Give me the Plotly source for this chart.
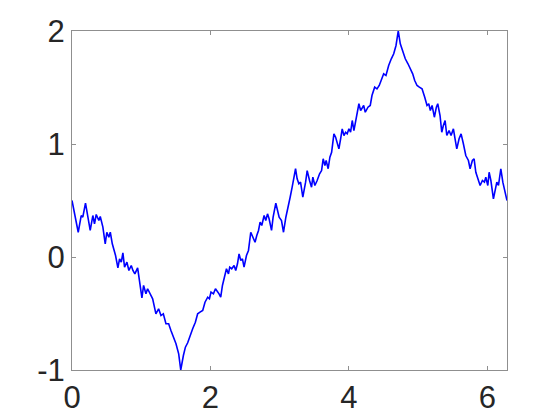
import plotly.graph_objects as go
import math

x_vals = [0.0, 0.090, 0.133, 0.156, 0.195, 0.229, 0.263, 0.301, 0.325, 0.350, 0.388, 0.408, 0.446, 0.480,
          0.503, 0.532, 0.553, 0.582, 0.629, 0.663, 0.687, 0.712, 0.735, 0.759, 0.793, 0.822, 0.856, 0.880,
          0.908, 0.948, 0.976, 1.010, 1.034, 1.068, 1.092, 1.117, 1.165, 1.212, 1.251, 1.285, 1.319, 1.357,
          1.396, 1.429, 1.464, 1.502, 1.541, 1.5708, 1.609, 1.638, 1.671, 1.704, 1.743, 1.782, 1.815, 1.849,
          1.888, 1.921, 1.960, 1.985, 2.008, 2.043, 2.072, 2.124, 2.148, 2.173, 2.210, 2.231, 2.260, 2.278,
          2.307, 2.341, 2.365, 2.390, 2.413, 2.438, 2.462, 2.485, 2.520, 2.549, 2.582, 2.615, 2.644, 2.669,
          2.694, 2.717, 2.741, 2.775, 2.799, 2.824, 2.847, 2.882, 2.905, 2.944, 2.968, 2.992, 3.026, 3.055,
          3.089, 3.128, 3.151, 3.180, 3.229, 3.252, 3.277, 3.301, 3.334, 3.374, 3.397, 3.431, 3.460, 3.479,
          3.508, 3.541, 3.576, 3.605, 3.628, 3.653, 3.671, 3.700, 3.725, 3.750, 3.783, 3.808, 3.831, 3.855,
          3.880, 3.903, 3.928, 3.952, 3.975, 4.000, 4.024, 4.048, 4.072, 4.105, 4.144, 4.169, 4.192, 4.213,
          4.236, 4.275, 4.308, 4.333, 4.372, 4.405, 4.438, 4.467, 4.502, 4.535, 4.574, 4.612, 4.647, 4.680,
          4.7124, 4.742, 4.777, 4.814, 4.853, 4.887, 4.921, 4.950, 4.984, 5.017, 5.056, 5.095, 5.128, 5.153,
          5.176, 5.201, 5.234, 5.263, 5.283, 5.316, 5.341, 5.364, 5.389, 5.414, 5.446, 5.475, 5.509, 5.533,
          5.558, 5.591, 5.620, 5.653, 5.688, 5.726, 5.750, 5.783, 5.808, 5.833, 5.862, 5.895, 5.928, 5.957,
          5.977, 6.006, 6.025, 6.050, 6.087, 6.112, 6.136, 6.160, 6.194, 6.223, 6.256, 6.2832]

y_vals = [0.5, 0.219, 0.367, 0.352, 0.476, 0.338, 0.235, 0.367, 0.294, 0.376, 0.323, 0.358, 0.264, 0.117,
          0.219, 0.175, 0.219, 0.117, 0.013, -0.096, -0.016, -0.046, 0.037, -0.090, -0.046, -0.119, -0.075, -0.119,
          -0.149, -0.096, -0.208, -0.361, -0.252, -0.326, -0.281, -0.311, -0.370, -0.503, -0.458, -0.518, -0.503, -0.591,
          -0.591, -0.650, -0.710, -0.768, -0.857, -1.0, -0.872, -0.798, -0.759, -0.695, -0.635, -0.577, -0.503, -0.488,
          -0.473, -0.400, -0.356, -0.370, -0.311, -0.326, -0.281, -0.326, -0.356, -0.252, -0.164, -0.104, -0.149, -0.090,
          -0.104, -0.075, -0.119, -0.060, 0.028, -0.031, -0.016, -0.090, 0.013, 0.058, 0.219, 0.175, 0.131, 0.190,
          0.235, 0.308, 0.279, 0.367, 0.323, 0.382, 0.338, 0.235, 0.352, 0.476, 0.396, 0.352, 0.323, 0.219,
          0.352, 0.485, 0.529, 0.618, 0.781, 0.692, 0.648, 0.662, 0.529, 0.662, 0.765, 0.677, 0.618, 0.706,
          0.633, 0.677, 0.736, 0.765, 0.869, 0.810, 0.854, 0.781, 0.883, 0.927, 1.090, 1.060, 1.016, 0.957,
          1.046, 1.134, 1.075, 1.104, 1.090, 1.134, 1.104, 1.208, 1.119, 1.237, 1.356, 1.296, 1.326, 1.341,
          1.281, 1.326, 1.341, 1.429, 1.503, 1.488, 1.518, 1.562, 1.621, 1.606, 1.695, 1.754, 1.798, 1.872,
          2.0, 1.887, 1.812, 1.754, 1.710, 1.665, 1.621, 1.562, 1.518, 1.503, 1.488, 1.414, 1.341, 1.356,
          1.296, 1.341, 1.237, 1.326, 1.356, 1.252, 1.104, 1.164, 1.208, 1.075, 1.119, 1.075, 1.134, 1.046,
          0.957, 1.046, 1.090, 1.002, 0.898, 0.854, 0.781, 0.854, 0.869, 0.750, 0.692, 0.633, 0.677, 0.662,
          0.706, 0.633, 0.750, 0.677, 0.515, 0.588, 0.662, 0.633, 0.781, 0.662, 0.559, 0.5]

x_ticks = [0, 2, 4, 6]
x_tick_labels = ["0", "2", "4", "6"]
y_ticks = [-1, 0, 1, 2]
y_tick_labels = ["-1", "0", "1", "2"]

fig = go.Figure()
fig.add_trace(go.Scatter(x=x_vals, y=y_vals, mode="lines",
                         line=dict(color="#0000FF", width=1.6), showlegend=False))

axis_common = dict(showgrid=False, zeroline=False, showline=True, mirror="ticks",
                   linecolor="#8f8f8f", linewidth=1, ticks="inside", ticklen=4,
                   tickcolor="#8f8f8f", tickwidth=1, automargin=False,
                   tickfont=dict(family="Liberation Sans, Arial, sans-serif", size=31, color="#262626"))

fig.update_xaxes(range=[0, 2 * math.pi], tickvals=x_ticks, ticktext=x_tick_labels, **axis_common)
fig.update_yaxes(range=[-1, 2], tickvals=y_ticks, ticktext=y_tick_labels, **axis_common)

fig.update_layout(width=552, height=412, margin=dict(l=64, r=53, t=23, b=50),
                  paper_bgcolor="white", plot_bgcolor="white")

fig.write_html("out.html")
